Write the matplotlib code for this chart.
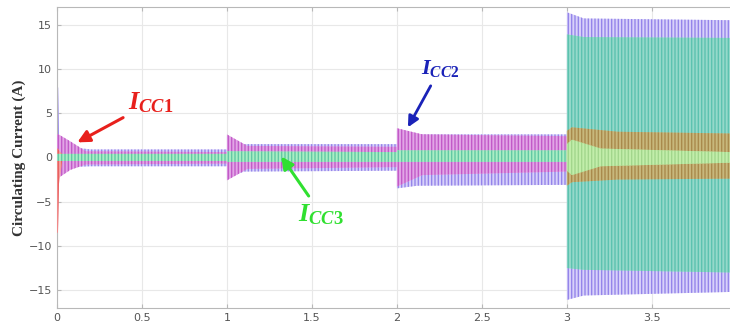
import matplotlib
matplotlib.use("Agg")
import matplotlib.pyplot as plt

# envelope knots (time in s, current in A)
t_blue = [0.0, 0.007, 0.012, 0.02, 0.06, 0.2, 1.0, 1.0, 1.1, 2.0, 2.0, 2.12, 3.0, 3.0, 3.1, 3.96]
up_blue = [7.9, 7.9, 2.4, 2.0, 1.2, 0.9, 0.9, 2.4, 1.5, 1.5, 3.0, 2.6, 2.6, 16.4, 15.7, 15.5]
lo_blue = [-1.0, -1.0, -1.8, -1.6, -1.1, -1.0, -1.0, -2.4, -1.6, -1.5, -3.5, -3.2, -3.1, -16.1, -15.6, -15.2]

t_mag = [0.0, 0.01, 0.08, 0.17, 1.0, 1.0, 1.12, 2.0, 2.0, 2.15, 3.0]
up_mag = [2.6, 2.6, 1.8, 0.7, 0.6, 2.6, 1.3, 1.2, 3.3, 2.6, 2.4]
lo_mag = [-2.4, -2.3, -1.4, -0.8, -0.7, -2.6, -1.3, -1.1, -3.3, -2.0, -1.6]

t_red = [0.0, 0.006, 0.012, 0.03]
up_red = [1.0, 1.0, 0.8, 0.4]
lo_red = [-8.5, -8.5, -3.0, -0.5]

t_green = [0.0, 1.0, 1.0, 2.0, 2.0, 3.0]
up_green = [0.4, 0.4, 0.7, 0.6, 0.8, 0.8]
lo_green = [-0.4, -0.4, -0.5, -0.5, -0.5, -0.5]

t_teal = [3.0, 3.1, 3.96]
up_teal = [13.9, 13.6, 13.5]
lo_teal = [-12.5, -12.7, -13.0]

t_inner = [3.0, 3.03, 3.3, 3.96]
up_inner = [3.0, 3.4, 2.9, 2.7]
lo_inner = [-3.2, -2.8, -2.5, -2.4]

t_core = [3.0, 3.03, 3.2, 3.96]
up_core = [1.5, 2.0, 1.0, 0.6]
lo_core = [-1.5, -2.0, -1.0, -0.6]

xticks = [0, 0.5, 1, 1.5, 2, 2.5, 3, 3.5]
yticks = [-15, -10, -5, 0, 5, 10, 15]

plt.rcParams["hatch.linewidth"] = 1.0
plt.rcParams["mathtext.fontset"] = "custom"
plt.rcParams["mathtext.it"] = "Liberation Serif:italic:bold"
plt.rcParams["mathtext.rm"] = "Liberation Serif:bold"

fig = plt.figure(figsize=(7.3, 3.3), dpi=100)
ax = fig.add_axes([0.078, 0.067, 0.922, 0.912])


def band(t, up, lo, face, hatch_col, z):
    ax.fill_between(t, lo, up, facecolor=face, edgecolor=hatch_col,
                    hatch="|||||", linewidth=0, zorder=z)


band(t_blue, up_blue, lo_blue, "#d8d2fa", "#9585ea", 2)
band(t_teal, up_teal, lo_teal, "#95d9ca", "#5cc2b0", 3)
band(t_mag, up_mag, lo_mag, "#e2a6e6", "#c25ac8", 4)
band(t_red, up_red, lo_red, "#f5a0a0", "#e86060", 5)
band(t_green, up_green, lo_green, "#aaeec4", "#62c8a4", 6)
band(t_inner, up_inner, lo_inner, "#c8b87c", "#a98a4c", 6)
band(t_core, up_core, lo_core, "#c2eeaa", "#a2d68c", 7)

ax.set_xlim(0, 3.96)
ax.set_ylim(-17, 17)
ax.set_xticks(xticks)
ax.set_xticklabels([f"{v:g}" for v in xticks])
ax.set_yticks(yticks)
ax.grid(True, color="#e8e8e8", linewidth=0.8, zorder=0)
ax.set_axisbelow(True)
for s in ["left", "top", "bottom"]:
    ax.spines[s].set_color("#b8b8b8")
ax.spines["right"].set_visible(False)
ax.tick_params(direction="in", length=3, color="#b8b8b8", labelcolor="#555555",
               labelsize=8, top=True)
ax.set_ylabel("Circulating Current (A)", fontsize=11, fontweight="bold",
              family="Liberation Serif", color="#333333", labelpad=2)

ax.annotate(r"$I_{CC1}$", xy=(0.12, 1.7), xytext=(0.42, 6.2), color="#e8201c",
            fontsize=19, ha="left", va="center",
            arrowprops=dict(arrowstyle="-|>", color="#e8201c", lw=2.2,
                            mutation_scale=18, shrinkA=2, shrinkB=0), zorder=10)
ax.annotate(r"$I_{CC2}$", xy=(2.065, 3.4), xytext=(2.14, 10.0), color="#1a22b8",
            fontsize=16, ha="left", va="center",
            arrowprops=dict(arrowstyle="-|>", color="#1a22b8", lw=2.0,
                            mutation_scale=16, shrinkA=3, shrinkB=0), zorder=10)
ax.annotate(r"$I_{CC3}$", xy=(1.32, 0.1), xytext=(1.42, -6.4), color="#30e030",
            fontsize=19, ha="left", va="center",
            arrowprops=dict(arrowstyle="-|>", color="#30e030", lw=2.2,
                            mutation_scale=18, shrinkA=2, shrinkB=0), zorder=10)

fig.savefig("out.png", dpi=100)
